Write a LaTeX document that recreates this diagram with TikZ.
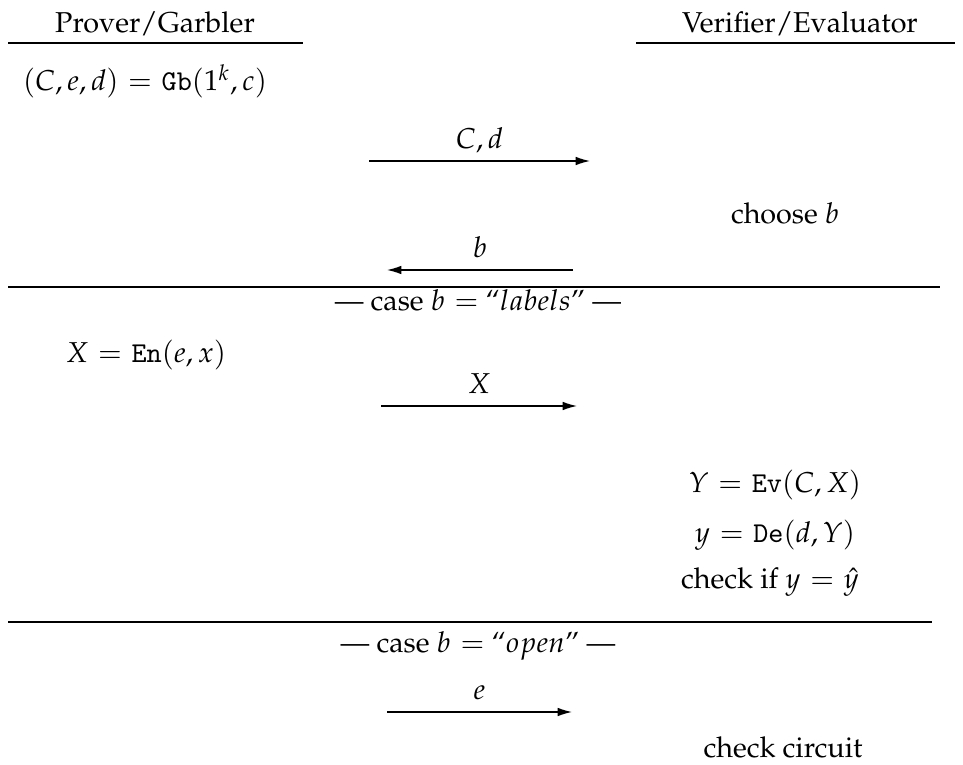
\documentclass[tikz,border=0pt]{standalone}
\usepackage[T1]{fontenc}
\usepackage{mathpazo}
\usetikzlibrary{arrows.meta}
\tikzset{
  txt/.style={inner sep=0pt, anchor=base},
  msg/.style={draw, -{Latex[length=5pt,width=3pt]}, line width=0.45pt},
  lbl/.style={midway, anchor=base, inner sep=0pt, yshift=4.4pt},
  rule/.style={draw, line width=0.45pt}
}
\begin{document}
\begin{tikzpicture}[x=0.348pt,y=-0.348pt]
\thickmuskip=6mu plus 3mu minus 1mu
\useasboundingbox (0,0) rectangle (963,765);
% headers
\node[txt] (prover) at (155,33) {Prover/Garbler};
\node[txt] (verifier) at (800,33) {Verifier/Evaluator};
\coordinate (pl) at (8,43); \coordinate (pr) at (303,43);
\coordinate (vl) at (636,43); \coordinate (vr) at (955,43);
\draw[rule] (pl) -- (pr);
\draw[rule] (vl) -- (vr);
% step 1
\node[txt] (gb) at (145,91) {$(C,e,d)=\mathtt{Gb}(1^k,c)$};
\coordinate (a1s) at (369,161); \coordinate (a1e) at (590,161);
\draw[msg] (a1s) -- (a1e) node[lbl] (l1) {$C,d$};
\node[txt] (chb) at (785,223) {choose $b$};
\coordinate (a2s) at (573,270); \coordinate (a2e) at (387,270);
\draw[msg] (a2s) -- (a2e) node[lbl] (l2) {$b$};
\coordinate (r1l) at (8,287); \coordinate (r1r) at (940,287);
\draw[rule] (r1l) -- (r1r);
\node[txt] (case1) at (478,310) {--- case $b=$ ``$labels$'' ---};
% labels case
\node[txt] (en) at (146,362) {$X=\mathtt{En}(e,x)$};
\coordinate (a3s) at (381,406); \coordinate (a3e) at (577,406);
\draw[msg] (a3s) -- (a3e) node[lbl] (l3) {$X$};
\node[txt] (ev) at (775,492) {$Y=\mathtt{Ev}(C,X)$};
\node[txt] (de) at (775,542) {$y=\mathtt{De}(d,Y)$};
\node[txt] (chk) at (770,588) {check if $y=\hat{y}$};
\coordinate (r2l) at (8,622); \coordinate (r2r) at (932,622);
\draw[rule] (r2l) -- (r2r);
\node[txt] (case2) at (478,652) {--- case $b=$ ``$open$'' ---};
\coordinate (a4s) at (387,712); \coordinate (a4e) at (572,712);
\draw[msg] (a4s) -- (a4e) node[lbl] (l4) {$e$};
\node[txt] (cc) at (783,757) {check circuit};
\end{tikzpicture}
\end{document}
